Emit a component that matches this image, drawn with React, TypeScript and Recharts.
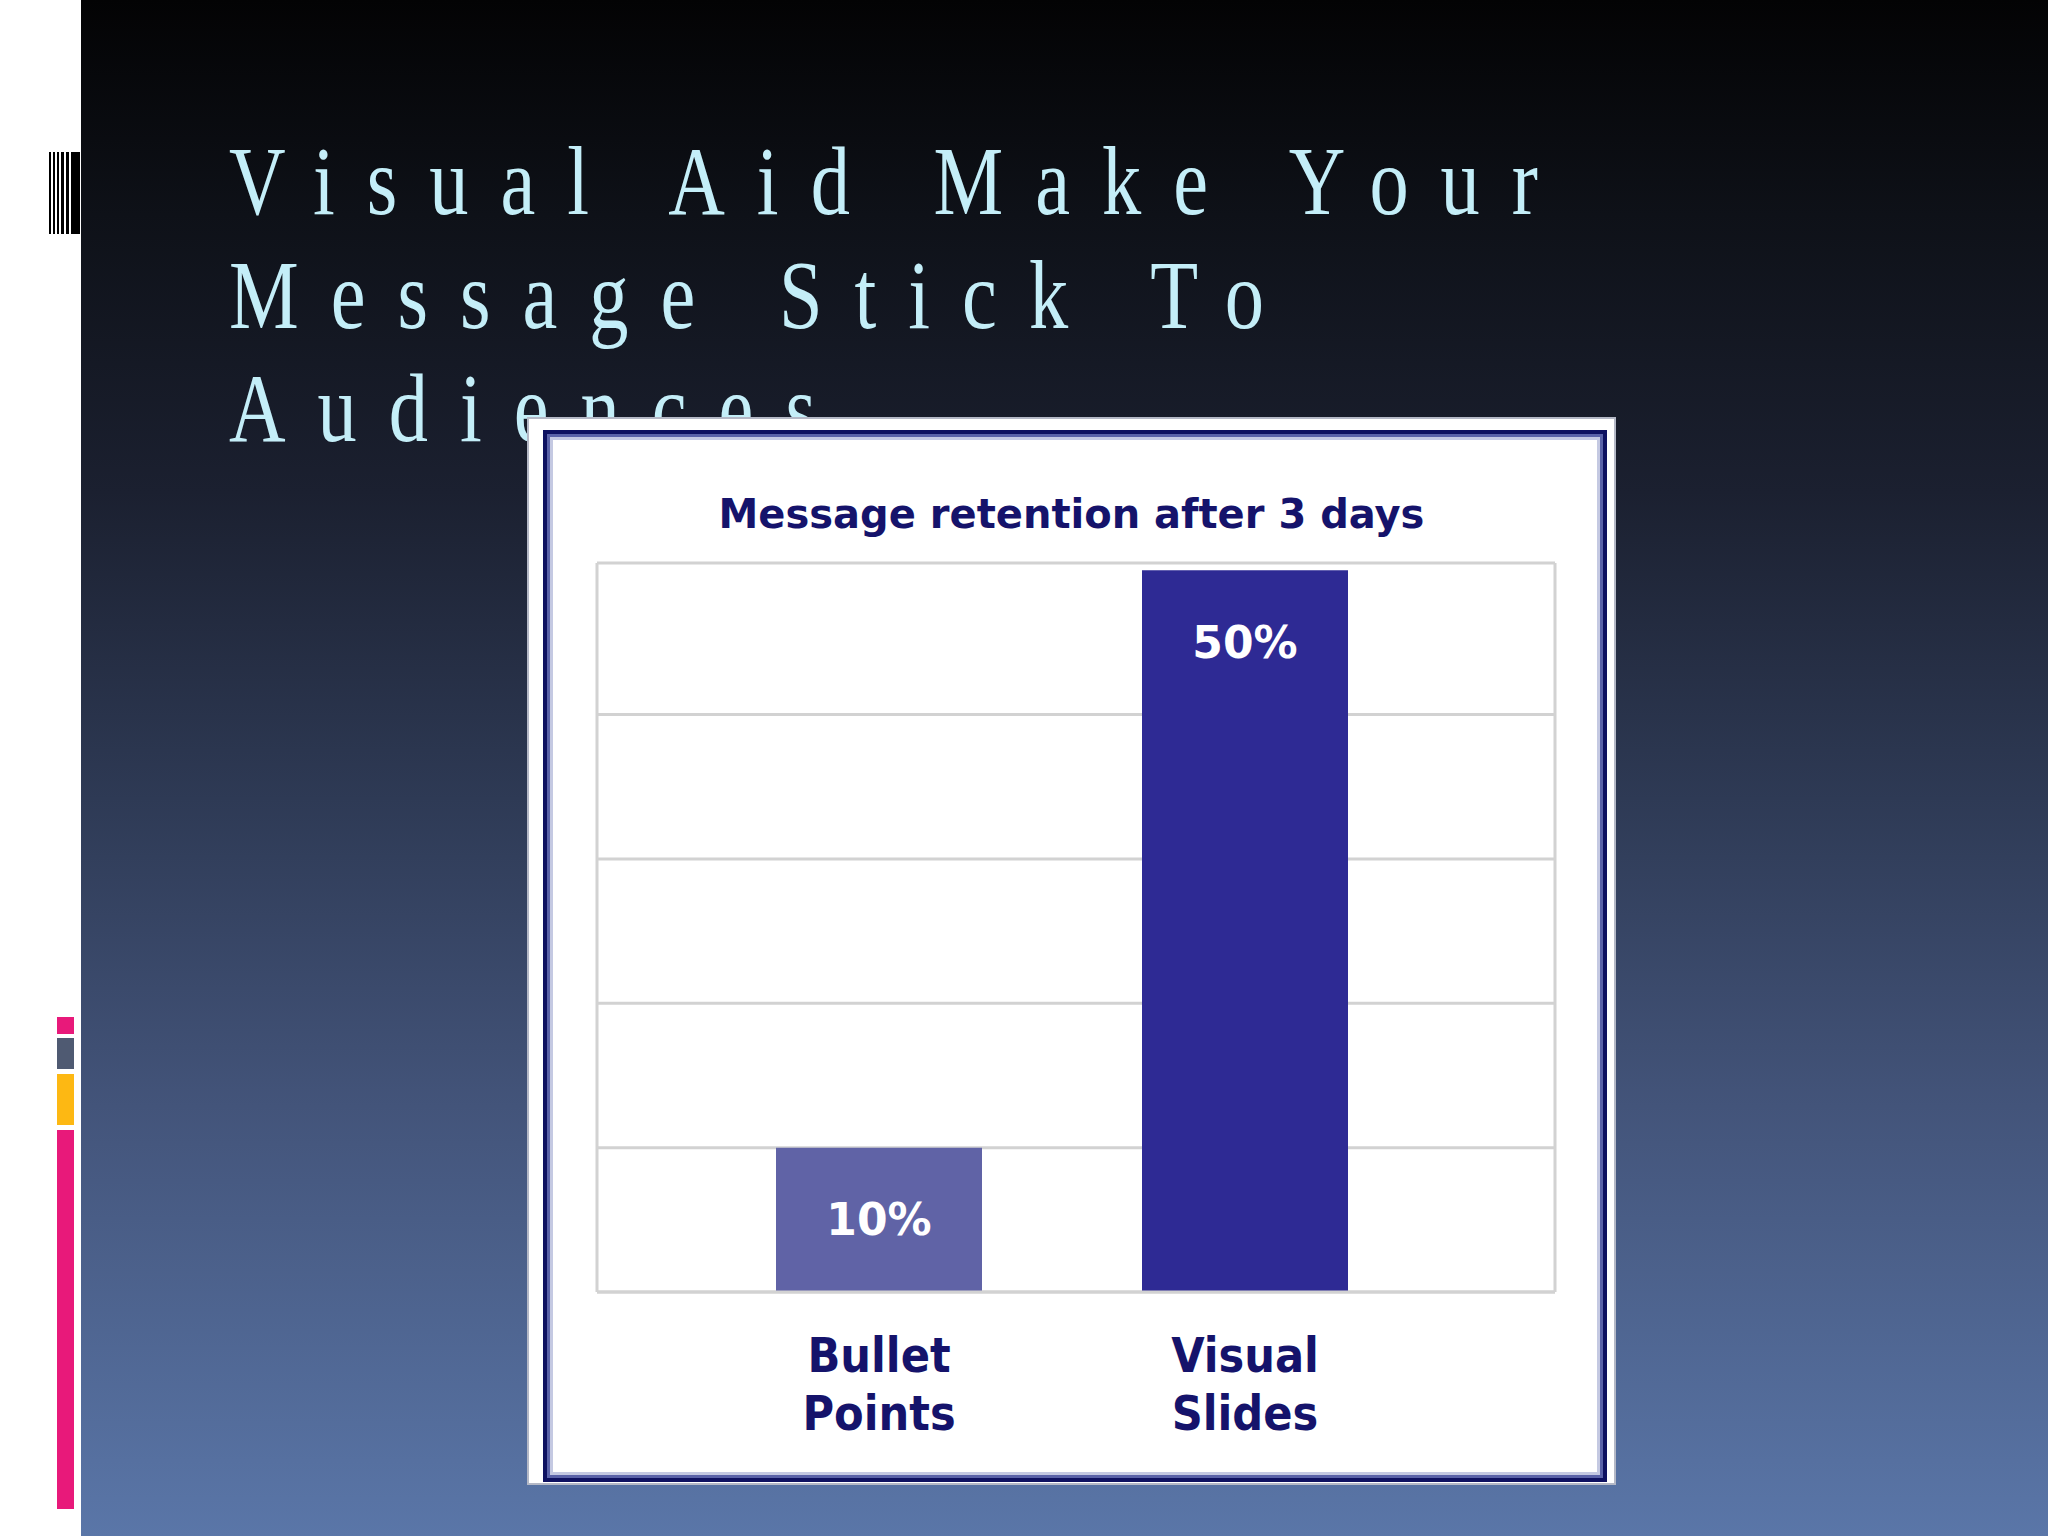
import type { ReactElement } from "react";
import { Bar, BarChart, CartesianGrid, Cell, LabelList, XAxis, YAxis } from "recharts";

// slide text
const titleLines = ["Visual Aid Make Your", "Message Stick To", "Audiences"];
const chartTitle = "Message retention after 3 days";

// chart data
const categories = ["Bullet Points", "Visual Slides"];
const retention = [10, 50];
const yMax = 50.5;
const yTicks = [0, 10, 20, 30, 40, yMax];

const BAR_COLORS = ["#6063a6", "#2e2a94"];
const NAVY = "#15136b";
const GRID = "#d2d2d2";
const BOLD_FONT = "'DejaVu Sans', Verdana, sans-serif";
const COND_FONT = "'DejaVu Sans Condensed', 'DejaVu Sans', sans-serif";

const rows = categories.map((name, i) => ({ name, value: retention[i] }));

function CategoryTick(props: any): ReactElement {
  const { x, y, payload } = props;
  const words = String(payload.value).split(" ");
  return (
    <g>
      {words.map((w, i) => (
        <text
          key={w}
          x={x}
          y={y + 72 + i * 58}
          textAnchor="middle"
          fill={NAVY}
          fontFamily={COND_FONT}
          fontWeight="bold"
          fontSize={48}
        >
          {w}
        </text>
      ))}
    </g>
  );
}

function PercentLabel(props: any): ReactElement {
  const { x, y, width, value } = props;
  return (
    <text
      x={x + width / 2}
      y={y + 72}
      textAnchor="middle"
      dominantBaseline="central"
      fill="#ffffff"
      fontFamily={BOLD_FONT}
      fontWeight="bold"
      fontSize={44}
    >
      {`${value}%`}
    </text>
  );
}

function SideDecor(): ReactElement {
  const stripes = [
    { x: 49, w: 2 },
    { x: 53, w: 2 },
    { x: 57, w: 2 },
    { x: 61, w: 3 },
    { x: 66, w: 3 },
    { x: 71, w: 9 },
  ];
  const blocks = [
    { top: 1017, h: 17, c: "#e8197a" },
    { top: 1038, h: 31, c: "#4f5a72" },
    { top: 1074, h: 51, c: "#fdb813" },
    { top: 1130, h: 379, c: "#e8197a" },
  ];
  return (
    <div style={{ position: "absolute", left: 0, top: 0, width: 81, height: 1536, background: "#ffffff" }}>
      {stripes.map((s) => (
        <div
          key={s.x}
          style={{ position: "absolute", left: s.x, top: 152, width: s.w, height: 82, background: "#000" }}
        />
      ))}
      {blocks.map((b) => (
        <div
          key={b.top}
          style={{ position: "absolute", left: 57, top: b.top, width: 17, height: b.h, background: b.c }}
        />
      ))}
    </div>
  );
}

export default function App(): ReactElement {
  return (
    <div
      style={{
        position: "absolute",
        left: 0,
        top: 0,
        width: 2048,
        height: 1536,
        overflow: "hidden",
        background:
          "linear-gradient(180deg, #030304 0%, #0e1118 14%, #1b2030 32%, #2e3a55 52%, #43547a 72%, #5a76a8 100%)",
      }}
    >
      <SideDecor />
      <div
        style={{
          position: "absolute",
          left: 229,
          top: 125,
          transform: "scaleX(0.8)",
          transformOrigin: "left top",
          fontFamily: "'Liberation Serif', 'Times New Roman', serif",
          fontSize: 98,
          lineHeight: "113.5px",
          letterSpacing: 40,
          color: "#c4eef8",
          whiteSpace: "nowrap",
        }}
      >
        {titleLines.map((line) => (
          <div key={line}>{line}</div>
        ))}
      </div>

      <div
        style={{
          position: "absolute",
          left: 527,
          top: 417,
          width: 1089,
          height: 1068,
          boxSizing: "border-box",
          background: "#ffffff",
          border: "2px solid #b4b8c6",
        }}
      />
      <div
        style={{
          position: "absolute",
          left: 543,
          top: 430,
          width: 1064,
          height: 1052,
          boxSizing: "border-box",
          border: "4px solid #0e1160",
          boxShadow: "inset 0 0 0 3px #5a62a8, inset 0 0 0 6px #c4c9e2",
        }}
      />
      <div
        style={{
          position: "absolute",
          left: 527,
          top: 494,
          width: 1089,
          textAlign: "center",
          fontFamily: BOLD_FONT,
          fontWeight: "bold",
          fontSize: 40,
          lineHeight: "40px",
          color: NAVY,
        }}
      >
        {chartTitle}
      </div>

      <div style={{ position: "absolute", left: 527, top: 418 }}>
        <BarChart
          width={1089}
          height={1067}
          data={rows}
          margin={{ top: 145, right: 61, bottom: 23, left: 70 }}
        >
          <CartesianGrid
            stroke={GRID}
            strokeWidth={3}
            verticalCoordinatesGenerator={({ offset }: any) => [offset.left, offset.left + offset.width]}
          />
          <XAxis
            dataKey="name"
            axisLine={{ stroke: GRID, strokeWidth: 3 }}
            tickLine={false}
            height={170}
            padding={{ left: 99, right: 127 }}
            tick={<CategoryTick />}
            interval={0}
          />
          <YAxis hide domain={[0, yMax]} ticks={yTicks} />
          <Bar dataKey="value" barSize={206} isAnimationActive={false}>
            {rows.map((r, i) => (
              <Cell key={r.name} fill={BAR_COLORS[i]} />
            ))}
            <LabelList dataKey="value" content={<PercentLabel />} />
          </Bar>
        </BarChart>
      </div>
    </div>
  );
}
